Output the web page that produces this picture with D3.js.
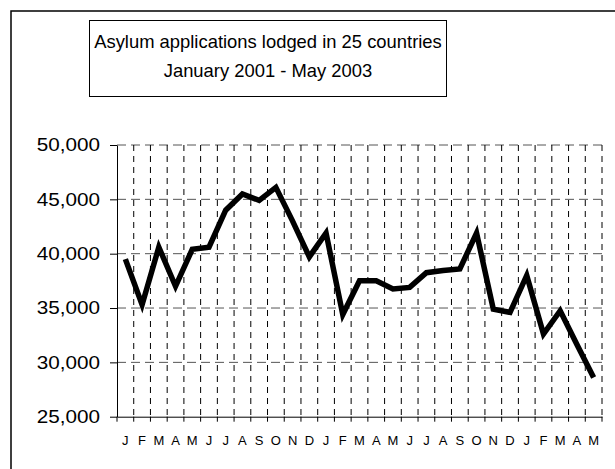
<!DOCTYPE html>
<html>
<head>
<meta charset="utf-8">
<script src="https://cdn.jsdelivr.net/npm/d3@7"></script>
<style>
  html, body { margin: 0; padding: 0; background: #fff; }
  svg { display: block; font-family: "Liberation Sans", Arial, sans-serif; }
</style>
</head>
<body>
<svg id="chart" width="615" height="469"></svg>
<script>
// ---- data ----
const titleLines = ["Asylum applications lodged in 25 countries", "January 2001 - May 2003"];
const months = ["J","F","M","A","M","J","J","A","S","O","N","D",
                "J","F","M","A","M","J","J","A","S","O","N","D",
                "J","F","M","A","M"];
const applications = [39500, 35300, 40600, 37000, 40400, 40600, 44000, 45500, 44900, 46100, 43000, 39700,
                      41900, 34400, 37500, 37500, 36750, 36900, 38250, 38450, 38600, 41900, 34900, 34600,
                      38000, 32600, 34750, 31650, 28600];
const yTicks = [25000, 30000, 35000, 40000, 45000, 50000];

// ---- layout ----
const svg = d3.select("#chart");
const plotLeft = 117, plotRight = 602, plotTop = 145, plotBottom = 416.7;

// outer frame (extends past the picture on right and bottom)
svg.append("rect").attr("x", 11).attr("y", 11).attr("width", 700).attr("height", 600)
  .attr("fill", "none").attr("stroke", "#000").attr("stroke-width", 1.5);

// title box
svg.append("rect").attr("x", 89.5).attr("y", 20.5).attr("width", 357).attr("height", 76)
  .attr("fill", "#fff").attr("stroke", "#000").attr("stroke-width", 1);
svg.selectAll("text.title").data(titleLines).join("text")
  .attr("class", "title")
  .attr("x", 268).attr("y", (d, i) => 48 + i * 29)
  .attr("text-anchor", "middle").attr("font-size", "18.4px").attr("fill", "#000")
  .text(d => d);

const idx = months.map((d, i) => i);
const x = d3.scaleBand().domain(idx).range([plotLeft, plotRight]).padding(0);
const y = d3.scaleLinear().domain([25000, 50000]).range([plotBottom, plotTop]);

// horizontal gridlines
svg.append("g").selectAll("line").data(yTicks.filter(v => v > 25000)).join("line")
  .attr("x1", plotLeft).attr("x2", plotRight)
  .attr("y1", d => y(d)).attr("y2", d => y(d))
  .attr("stroke", "#555").attr("stroke-width", 1).attr("stroke-dasharray", "9,5");

// vertical gridlines at category boundaries
const boundaries = idx.map(i => x(i) + x.bandwidth());
svg.append("g").selectAll("line").data(boundaries).join("line")
  .attr("x1", d => d).attr("x2", d => d)
  .attr("y1", plotTop).attr("y2", plotBottom)
  .attr("stroke", "#000").attr("stroke-width", 1).attr("stroke-dasharray", "6,5");

// y axis
const yAxis = d3.axisLeft(y).tickValues(yTicks).tickFormat(d3.format(",")).tickSizeInner(7).tickSizeOuter(0).tickPadding(10);
const gy = svg.append("g").attr("transform", `translate(${plotLeft},0)`).call(yAxis);
gy.select(".domain").attr("stroke", "#000");
gy.selectAll(".tick line").attr("stroke", "#000");
const sx = 1.15;
gy.selectAll(".tick text").attr("font-size", "18px").attr("fill", "#000")
  .attr("font-family", "'Liberation Sans', Arial, sans-serif")
  .attr("x", -17 / sx).attr("transform", `scale(${sx},1)`);

// x axis
const xAxis = d3.axisBottom(x).tickFormat(i => months[i]).tickSize(0).tickPadding(20);
const gx = svg.append("g").attr("transform", `translate(0,${plotBottom})`).call(xAxis);
gx.select(".domain").attr("stroke", "#000");
gx.selectAll(".tick text").attr("font-size", "13px").attr("fill", "#000")
  .attr("font-family", "'Liberation Sans', Arial, sans-serif").attr("dy", "0");
gx.selectAll(".tick text").attr("y", 28.5);
// boundary tick marks under the axis
svg.append("g").selectAll("line").data([plotLeft].concat(boundaries)).join("line")
  .attr("x1", d => d).attr("x2", d => d)
  .attr("y1", plotBottom).attr("y2", plotBottom + 5)
  .attr("stroke", "#000").attr("stroke-width", 1);

// series line
const line = d3.line().x((d, i) => x(i) + x.bandwidth() / 2).y(d => y(d));
svg.append("path").datum(applications)
  .attr("d", line).attr("fill", "none").attr("stroke", "#000")
  .attr("stroke-width", 5.5).attr("stroke-linejoin", "miter").attr("stroke-miterlimit", 4);
</script>
</body>
</html>
